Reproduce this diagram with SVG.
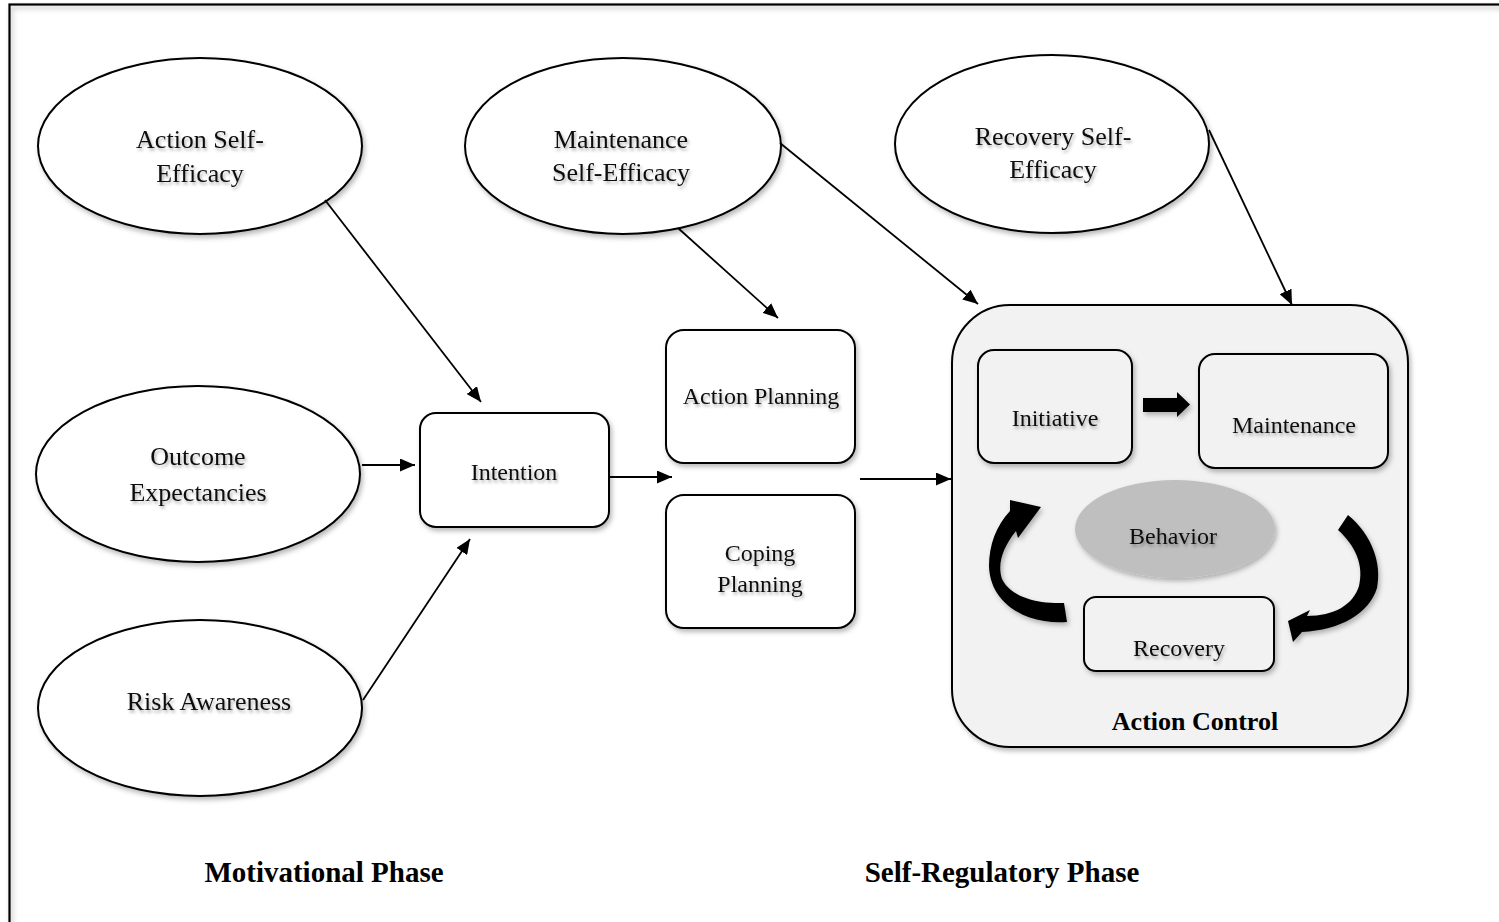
<svg xmlns="http://www.w3.org/2000/svg" width="1499" height="922" viewBox="0 0 1499 922">
  <defs>
    <filter id="shade" x="-10%" y="-10%" width="130%" height="130%">
      <feDropShadow dx="2" dy="3" stdDeviation="2.5" flood-color="#000" flood-opacity="0.28"/>
    </filter>
    <filter id="tshade" x="-10%" y="-30%" width="130%" height="170%">
      <feDropShadow dx="1.5" dy="2.5" stdDeviation="1.4" flood-color="#000" flood-opacity="0.32"/>
    </filter>
    <marker id="arrow" viewBox="0 0 15 13" refX="15" refY="6.5" markerWidth="15" markerHeight="13" markerUnits="userSpaceOnUse" orient="auto">
      <path d="M0,0 L15,6.5 L0,13 Z" fill="#000"/>
    </marker>
    <style>
      .ell { fill: #fff; stroke: #000; stroke-width: 2; filter: url(#shade); }
      .box { fill: #fff; stroke: #000; stroke-width: 2; filter: url(#shade); }
      .inbox { fill: #f2f2f2; stroke: #000; stroke-width: 2; filter: url(#shade); }
      .lbl { font-family: "Liberation Serif", "Times New Roman", serif; font-size: 24px; fill: #111; text-anchor: middle; filter: url(#tshade); }
      .big { font-size: 26px; }
      .bold { font-family: "Liberation Serif", "Times New Roman", serif; font-weight: bold; fill: #000; text-anchor: middle; }
      .conn { stroke: #000; stroke-width: 1.8; fill: none; marker-end: url(#arrow); }
      .solid { fill: #000; stroke: none; filter: url(#shade); }
    </style>
  </defs>

  <rect width="1499" height="922" fill="#fff"/>

  <!-- page frame -->
  <rect x="9.5" y="4.5" width="1600" height="1000" fill="none" stroke="#000" stroke-width="2.2" filter="url(#shade)"/>

  <!-- motivational phase -->
  <g id="action-self-efficacy">
    <ellipse class="ell" cx="200" cy="146" rx="162" ry="88"/>
    <text class="lbl big" x="200" y="148">Action Self-</text>
    <text class="lbl big" x="200" y="182">Efficacy</text>
  </g>
  <g id="outcome-expectancies">
    <ellipse class="ell" cx="198" cy="474" rx="162" ry="88"/>
    <text class="lbl big" x="198" y="465">Outcome</text>
    <text class="lbl big" x="198" y="501">Expectancies</text>
  </g>
  <g id="risk-awareness">
    <ellipse class="ell" cx="200" cy="708" rx="162" ry="88"/>
    <text class="lbl big" x="209" y="710">Risk Awareness</text>
  </g>
  <g id="intention">
    <rect class="box" x="420" y="413" width="189" height="114" rx="16"/>
    <text class="lbl" x="514" y="480">Intention</text>
  </g>

  <!-- self-regulatory phase -->
  <g id="maintenance-self-efficacy">
    <ellipse class="ell" cx="623" cy="146" rx="158" ry="88"/>
    <text class="lbl big" x="621" y="148">Maintenance</text>
    <text class="lbl big" x="621" y="181">Self-Efficacy</text>
  </g>
  <g id="recovery-self-efficacy">
    <ellipse class="ell" cx="1052" cy="144" rx="157" ry="89"/>
    <text class="lbl big" x="1053" y="145">Recovery Self-</text>
    <text class="lbl big" x="1053" y="178">Efficacy</text>
  </g>
  <g id="action-planning">
    <rect class="box" x="666" y="330" width="189" height="133" rx="18"/>
    <text class="lbl" x="761" y="404">Action Planning</text>
  </g>
  <g id="coping-planning">
    <rect class="box" x="666" y="495" width="189" height="133" rx="18"/>
    <text class="lbl" x="760" y="561">Coping</text>
    <text class="lbl" x="760" y="592">Planning</text>
  </g>

  <g id="action-control">
    <rect class="inbox" x="952" y="305" width="456" height="442" rx="58"/>
    <text class="bold" x="1195" y="730" font-size="26">Action Control</text>

    <g id="initiative">
      <rect class="inbox" x="978" y="350" width="154" height="113" rx="16"/>
      <text class="lbl" x="1055" y="426">Initiative</text>
    </g>
    <g id="maintenance">
      <rect class="inbox" x="1199" y="354" width="189" height="114" rx="16"/>
      <text class="lbl" x="1294" y="433">Maintenance</text>
    </g>
    <g id="behavior">
      <ellipse cx="1175" cy="529" rx="100" ry="49" fill="#bfbfbf" filter="url(#shade)"/>
      <text class="lbl" x="1173" y="544">Behavior</text>
    </g>
    <g id="recovery">
      <rect class="inbox" x="1084" y="597" width="190" height="74" rx="12"/>
      <text class="lbl" x="1179" y="656">Recovery</text>
    </g>

    <!-- block arrow and cycle arrows -->
    <path class="solid" d="M1143,398 L1177,398 L1177,392 L1190,404.5 L1177,417 L1177,412 L1143,412 Z"/>
    <path class="solid" d="M1067,622 C1030,625 990,606 989,566 C989,545 996,526 1010,511 L1010,500 L1041,507 L1018,538 L1016,531 C1003,547 997,564 1002,579 C1010,596 1035,604 1064,603 Z"/>
    <path class="solid" d="M1348,515 C1372,535 1382,563 1377,588 C1369,614 1340,630 1302,632 L1293,642 L1288,621 L1310,610 L1307,616 C1334,616 1353,605 1359,586 C1364,566 1356,546 1338,530 Z"/>
  </g>

  <!-- connectors -->
  <g id="connectors">
    <line class="conn" x1="325" y1="200" x2="481" y2="402"/>
    <line class="conn" x1="362" y1="465" x2="415" y2="465"/>
    <line class="conn" x1="363" y1="700" x2="470" y2="539"/>
    <line class="conn" x1="609" y1="477" x2="672" y2="477"/>
    <line class="conn" x1="860" y1="479" x2="951" y2="479"/>
    <line class="conn" x1="678" y1="228" x2="778" y2="318"/>
    <line class="conn" x1="780" y1="143" x2="978" y2="304"/>
    <line class="conn" x1="1209" y1="130" x2="1292" y2="305"/>
  </g>

  <!-- phase captions -->
  <text class="bold" x="324" y="882" font-size="29">Motivational Phase</text>
  <text class="bold" x="1002" y="882" font-size="29">Self-Regulatory Phase</text>
</svg>
